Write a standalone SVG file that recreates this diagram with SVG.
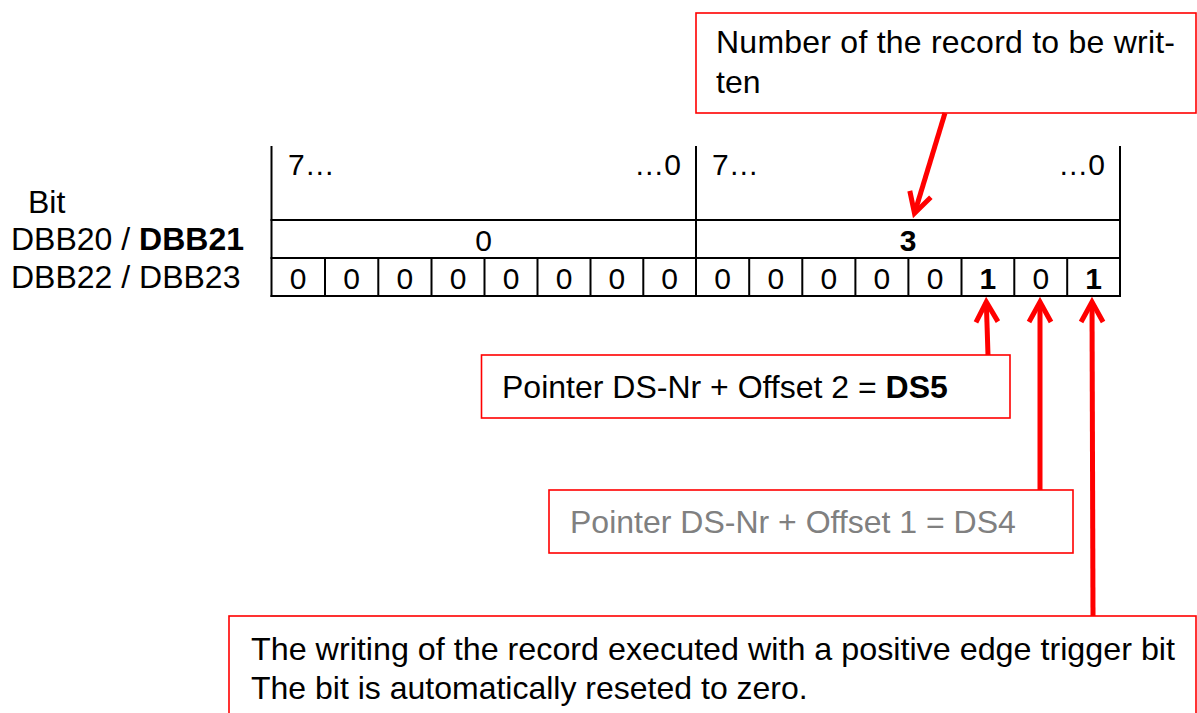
<svg xmlns="http://www.w3.org/2000/svg" width="1197" height="713" viewBox="0 0 1197 713">
  <style>
    .t { font-family: "Liberation Sans", Arial, sans-serif; fill: #000; }
    .lbl { font-size: 32px; }
    .cell { font-size: 30px; text-anchor: middle; }
    .grid { stroke: #000; stroke-width: 2; fill: none; }
    .note { fill: #fff; stroke: #ff0000; stroke-width: 1.6; }
    .wire { stroke: #ff0000; stroke-width: 5; fill: none; marker-end: url(#chev); }
    .b { font-weight: bold; }
  </style>
  <defs>
    <marker id="chev" markerUnits="userSpaceOnUse" viewBox="-30 -20 40 40" markerWidth="40" markerHeight="40" refX="0" refY="0" orient="auto" overflow="visible">
      <path d="M -20 -11 L 0 0 L -20 11" fill="none" stroke="#ff0000" stroke-width="5" stroke-linejoin="miter"/>
    </marker>
  </defs>

  <rect width="1197" height="713" fill="#fff"/>

  <!-- row labels -->
  <g id="row-labels" class="t lbl">
    <text x="28" y="213">Bit</text>
    <text x="11" y="250">DBB20 / <tspan class="b">DBB21</tspan></text>
    <text x="11" y="288">DBB22 / DBB23</text>
  </g>

  <!-- register table -->
  <g id="register-table">
    <g class="grid">
      <line x1="271.5" y1="146" x2="271.5" y2="297"/>
      <line x1="696" y1="146" x2="696" y2="297"/>
      <line x1="1120" y1="146" x2="1120" y2="297"/>
      <line x1="270.5" y1="220" x2="1121" y2="220"/>
      <line x1="270.5" y1="258" x2="1121" y2="258"/>
      <line x1="270.5" y1="296" x2="1121" y2="296"/>
      <path d="M325 258V296M378.3 258V296M431.5 258V296M484.5 258V296M537.5 258V296M590.5 258V296M643.3 258V296
               M749.2 258V296M802.3 258V296M855.4 258V296M908.4 258V296M961.5 258V296M1014.3 258V296M1067.2 258V296"/>
    </g>
    <g class="t" font-size="30">
      <text x="288" y="175">7…</text>
      <text x="681" y="175" text-anchor="end">…0</text>
      <text x="712" y="175">7…</text>
      <text x="1105" y="175" text-anchor="end">…0</text>
    </g>
    <g class="t cell">
      <text x="483.7" y="251">0</text>
      <text x="908" y="251" class="b">3</text>
      <text x="298.2" y="289">0</text>
      <text x="351.6" y="289">0</text>
      <text x="404.9" y="289">0</text>
      <text x="458" y="289">0</text>
      <text x="511" y="289">0</text>
      <text x="564" y="289">0</text>
      <text x="616.9" y="289">0</text>
      <text x="669.6" y="289">0</text>
      <text x="722.6" y="289">0</text>
      <text x="775.8" y="289">0</text>
      <text x="828.8" y="289">0</text>
      <text x="881.9" y="289">0</text>
      <text x="935" y="289">0</text>
      <text x="987.9" y="289" class="b">1</text>
      <text x="1040.8" y="289">0</text>
      <text x="1093.6" y="289" class="b">1</text>
    </g>
  </g>

  <!-- callout: record number -->
  <g id="note-record">
    <rect class="note" x="696" y="13" width="500" height="100"/>
    <text class="t lbl" x="716" y="53" textLength="459" lengthAdjust="spacing">Number of the record to be writ-</text>
    <text class="t lbl" x="716" y="93">ten</text>
  </g>

  <!-- callout: offset 2 -->
  <g id="note-ds5">
    <rect class="note" x="481.5" y="355" width="528.5" height="63"/>
    <text class="t lbl" x="502" y="398">Pointer DS-Nr + Offset 2 = <tspan class="b">DS5</tspan></text>
  </g>

  <!-- callout: offset 1 -->
  <g id="note-ds4">
    <rect class="note" x="549" y="490" width="524" height="63"/>
    <text class="t lbl" x="570" y="533" style="fill:#808080">Pointer DS-Nr + Offset 1 = DS4</text>
  </g>

  <!-- callout: trigger bit -->
  <g id="note-trigger">
    <rect class="note" x="229" y="616" width="967" height="120"/>
    <text class="t lbl" x="251" y="660" textLength="924" lengthAdjust="spacingAndGlyphs">The writing of the record executed with a positive edge trigger bit</text>
    <text class="t lbl" x="251" y="699">The bit is automatically reseted to zero.</text>
  </g>

  <!-- connectors -->
  <g id="connectors">
    <line class="wire" x1="945" y1="113" x2="914.5" y2="213.2"/>
    <line class="wire" x1="988" y1="355" x2="986.3" y2="302"/>
    <line class="wire" x1="1040" y1="490" x2="1040" y2="302"/>
    <line class="wire" x1="1093" y1="616" x2="1092" y2="302"/>
  </g>
</svg>
